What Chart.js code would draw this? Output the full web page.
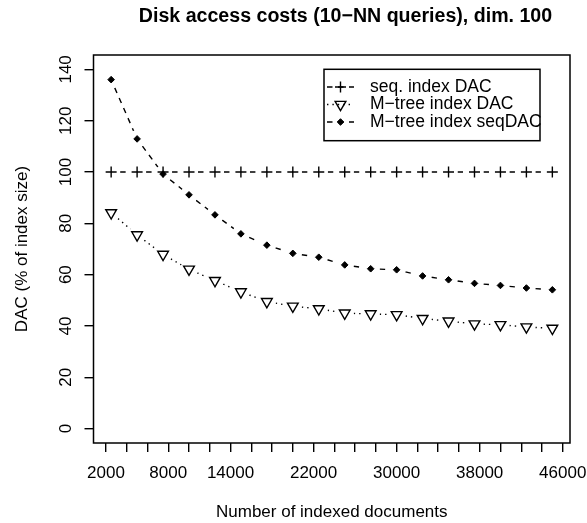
<!DOCTYPE html>
<html>
<head>
<meta charset="utf-8">
<script src="https://cdn.jsdelivr.net/npm/chart.js@4.4.1/dist/chart.umd.min.js"></script>
<style>
  html, body { margin: 0; padding: 0; background: #fff; }
  #plot { display: block; }
</style>
</head>
<body>
<canvas id="plot" width="587" height="523"></canvas>
<script>
// Number of indexed documents (x) and disk access costs in % of index size (y)
const documents = [2500, 5000, 7500, 10000, 12500, 15000, 17500, 20000, 22500,
                   25000, 27500, 30000, 32500, 35000, 37500, 40000, 42500, 45000];
const seqIndexDAC = [100, 100, 100, 100, 100, 100, 100, 100, 100,
                     100, 100, 100, 100, 100, 100, 100, 100, 100];
const mtreeIndexDAC = [84.1, 75.5, 67.9, 62.1, 57.7, 53.3, 49.5, 47.7, 46.7,
                       45.0, 44.7, 44.4, 42.9, 41.9, 40.8, 40.5, 39.6, 39.1];
const mtreeIndexSeqDAC = [136.0, 112.9, 99.2, 91.1, 83.3, 75.9, 71.5, 68.3, 66.8,
                          63.8, 62.3, 61.9, 59.5, 58.0, 56.6, 55.8, 54.8, 54.1];

const xTickValues = [2000, 4000, 6000, 8000, 10000, 12000, 14000, 16000, 18000, 20000,
                     22000, 24000, 26000, 28000, 30000, 32000, 34000, 36000, 38000,
                     40000, 42000, 44000, 46000];
const xTickLabels = [2000, 8000, 14000, 22000, 30000, 38000, 46000];
const yTickValues = [0, 10, 20, 30, 40, 50, 60, 70, 80, 90, 100, 110, 120, 130, 140];
const yTickLabels = [0, 20, 40, 60, 80, 100, 120, 140];

const chartTitle = 'Disk access costs (10\u2212NN queries), dim. 100';
const xTitle = 'Number of indexed documents';
const yTitle = 'DAC (% of index size)';
const seriesNames = ['seq. index DAC', 'M\u2212tree index DAC', 'M\u2212tree index seqDAC'];

const FONT = '"Liberation Sans", Arial, Helvetica, sans-serif';
const INK = '#000';
const LW = 1.4;
const GAP = 9;            // line stops short of each marker (type "b" look)
const DASHED = [5.5, 5.5];
const DOTTED = [1.4, 4];

const toPoints = ys => documents.map((x, i) => ({ x: x, y: ys[i] }));

// Connecting line of one series; each segment restarts its dash pattern
function lineSet(name, ys, dash, order) {
  const period = dash[0] + dash[1];
  return {
    label: name, role: 'line', data: toPoints(ys), order: order,
    showLine: true, pointRadius: 0, pointHoverRadius: 0,
    borderColor: INK, borderWidth: LW, borderDash: dash, tension: 0,
    gapRadius: GAP,
    segment: { borderDashOffset: c => period * (c.p0DataIndex + 1) - GAP }
  };
}
// Plot symbols of one series
function markerSet(name, ys, style, order) {
  return Object.assign({
    label: name, role: 'marker', data: toPoints(ys), order: order,
    showLine: false, borderColor: INK, pointBorderColor: INK
  }, style);
}

const styles = [
  { dash: DASHED, marker: { pointStyle: 'cross', pointRadius: 5.5, pointBorderWidth: LW,
                            pointBackgroundColor: 'rgba(0,0,0,0)', pointRotation: 0 } },
  { dash: DOTTED, marker: { pointStyle: 'triangle', pointRadius: 6.2, pointBorderWidth: LW,
                            pointBackgroundColor: 'rgba(0,0,0,0)', pointRotation: 180 } },
  { dash: DASHED, marker: { pointStyle: 'rectRot', pointRadius: 3.3, pointBorderWidth: 1,
                            pointBackgroundColor: INK, pointRotation: 0 } }
];
const seriesValues = [seqIndexDAC, mtreeIndexDAC, mtreeIndexSeqDAC];

const datasets = [];
seriesValues.forEach((ys, k) => {
  const base = (3 - k) * 2;   // later series are drawn on top
  datasets.push(lineSet(seriesNames[k], ys, styles[k].dash, base));
  datasets.push(markerSet(seriesNames[k], ys, styles[k].marker, base - 1));
});

// Cut small holes around the points so line segments stop short of the symbols
const pointGaps = {
  id: 'pointGaps',
  beforeDatasetDraw(chart, args) {
    const ds = chart.data.datasets[args.index];
    if (!ds.gapRadius) return;
    const ctx = chart.ctx, r = ds.gapRadius;
    ctx.save();
    ctx.beginPath();
    ctx.rect(0, 0, chart.width, chart.height);
    for (const pt of args.meta.data) {
      ctx.moveTo(pt.x + r, pt.y);
      ctx.arc(pt.x, pt.y, r, 0, Math.PI * 2);
    }
    ctx.clip('evenodd');
  },
  afterDatasetDraw(chart, args) {
    const ds = chart.data.datasets[args.index];
    if (ds.gapRadius) chart.ctx.restore();
  }
};

function drawSymbol(ctx, ds, x, y) {
  const opts = {
    pointStyle: ds.pointStyle, radius: ds.pointRadius,
    rotation: ds.pointRotation || 0, borderWidth: ds.pointBorderWidth
  };
  ctx.save();
  ctx.strokeStyle = INK;
  ctx.fillStyle = ds.pointBackgroundColor;
  ctx.lineWidth = ds.pointBorderWidth;
  Chart.helpers.drawPoint(ctx, opts, x, y);
  ctx.restore();
}

// Frame around the plotting region, main title and the boxed key
const decorations = {
  id: 'decorations',
  afterDraw(chart) {
    const ctx = chart.ctx, a = chart.chartArea;
    ctx.save();
    ctx.strokeStyle = INK;
    ctx.lineWidth = 1.5;
    ctx.strokeRect(a.left, a.top, a.right - a.left, a.bottom - a.top);

    ctx.fillStyle = INK;
    ctx.font = 'bold 19.6px ' + FONT;
    ctx.textAlign = 'center';
    ctx.textBaseline = 'alphabetic';
    ctx.fillText(chartTitle, 345.5, 22);

    // key
    const box = { x: 324, y: 69.3, w: 216, h: 71.4 };
    ctx.lineWidth = 1.5;
    ctx.strokeRect(box.x, box.y, box.w, box.h);
    const rows = [87, 104.5, 122];
    const lines = chart.data.datasets.filter(d => d.role === 'line');
    const marks = chart.data.datasets.filter(d => d.role === 'marker');
    ctx.font = '17.5px ' + FONT;
    ctx.textAlign = 'left';
    ctx.textBaseline = 'middle';
    rows.forEach((ry, k) => {
      ctx.save();
      ctx.lineWidth = LW;
      ctx.setLineDash(lines[k].borderDash);
      ctx.beginPath();
      ctx.moveTo(327, ry);
      ctx.lineTo(354, ry);
      ctx.stroke();
      ctx.restore();
      drawSymbol(ctx, marks[k], 340.5, ry);
      ctx.fillStyle = INK;
      ctx.fillText(lines[k].label, 370, ry);
    });
    ctx.restore();
  }
};

new Chart(document.getElementById('plot'), {
  type: 'line',
  data: { datasets: datasets },
  plugins: [pointGaps, decorations],
  options: {
    responsive: false,
    animation: false,
    events: [],
    layout: { padding: { top: 55, right: 17, bottom: 0, left: 0 } },
    plugins: {
      legend: { display: false },
      tooltip: { enabled: false },
      title: { display: false }
    },
    scales: {
      x: {
        type: 'linear', min: 800, max: 46700,
        border: { display: false },
        grid: { drawOnChartArea: false, drawTicks: true, tickLength: 9, color: INK, lineWidth: LW },
        ticks: {
          autoSkip: false, minRotation: 0, maxRotation: 0, padding: 11.2,
          color: INK, font: { family: FONT, size: 17 },
          callback: v => xTickLabels.includes(v) ? String(v) : ''
        },
        afterBuildTicks: s => { s.ticks = xTickValues.map(v => ({ value: v })); },
        afterFit: s => { s.height = 80; s.paddingLeft = 0; s.paddingRight = 0; },
        title: { display: true, text: xTitle, color: INK, font: { family: FONT, size: 17 },
                 padding: { top: 0, bottom: 0.7 } }
      },
      y: {
        type: 'linear', min: -5.6, max: 145.6,
        border: { display: false },
        grid: { drawOnChartArea: false, drawTicks: true, tickLength: 9, color: INK, lineWidth: LW },
        ticks: {
          minRotation: 90, maxRotation: 90, crossAlign: 'center', padding: 4.5,
          color: INK, font: { family: FONT, size: 17 },
          callback: v => yTickLabels.includes(v) ? String(v) : ''
        },
        afterBuildTicks: s => { s.ticks = yTickValues.map(v => ({ value: v })); },
        afterFit: s => { s.width = 93.5; s.paddingTop = 0; s.paddingBottom = 0; },
        title: { display: true, text: yTitle, color: INK, font: { family: FONT, size: 17 },
                 padding: { top: 12.2, bottom: 0 } }
      }
    }
  }
});
</script>
</body>
</html>
